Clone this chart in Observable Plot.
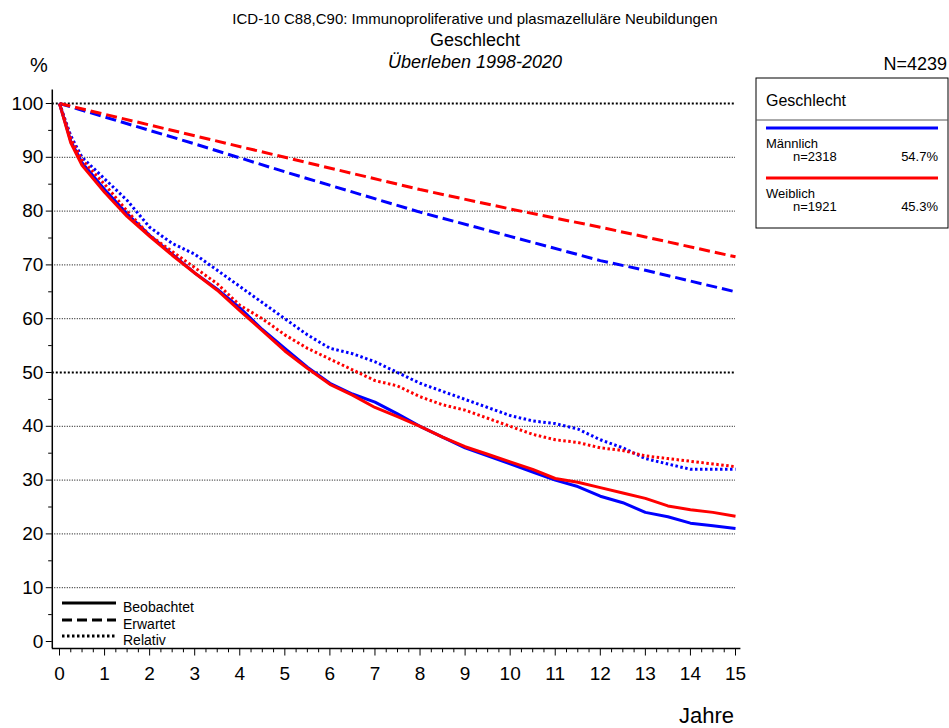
<!DOCTYPE html>
<html lang="de">
<head>
<meta charset="UTF-8">
<script src="https://cdn.jsdelivr.net/npm/d3@7"></script>
<script src="https://cdn.jsdelivr.net/npm/@observablehq/plot@0.6"></script>
<style>
  body { margin: 0; background: #fff; font-family: "Liberation Sans", Arial, sans-serif; }
</style>
</head>
<body>
<div id="chart"></div>
<script>
// survival curves (years, percent)
const years = [0, 0.25, 0.5, 1, 1.5, 2, 2.5, 3, 3.5, 4, 4.5, 5, 5.5, 6, 6.5, 7, 7.5, 8, 8.5, 9, 9.5, 10, 10.5, 11, 11.5, 12, 12.5, 13, 13.5, 14, 14.5, 15];
const obsMale   = [100, 93, 89, 84, 79.5, 75.5, 72, 68.5, 65.5, 62, 58, 54.5, 51, 48, 46, 44.5, 42.3, 40, 38, 36, 34.5, 33, 31.5, 30, 28.8, 27, 25.8, 24, 23.2, 22, 21.5, 21];
const obsFemale = [100, 92.7, 88.5, 83.5, 79, 75.3, 71.8, 68.5, 65.3, 61.5, 57.8, 54, 50.8, 47.8, 45.8, 43.5, 41.8, 40, 38, 36.2, 34.8, 33.4, 32, 30.3, 29.6, 28.6, 27.6, 26.6, 25.2, 24.5, 24, 23.3];
const relMale   = [100, 94, 90, 86, 82, 77, 74, 72, 69, 66, 63, 60, 57, 54.5, 53.5, 52, 50, 48, 46.5, 45, 43.5, 42, 41, 40.5, 39.5, 37.5, 36, 34, 33, 32, 32, 32];
const relFemale = [100, 93.5, 89.5, 85, 80, 75.5, 72.5, 69.5, 66.5, 62.5, 60, 57, 54.5, 52.5, 50.5, 48.5, 47.5, 45.5, 44, 43, 41.5, 40, 38.5, 37.5, 37, 36, 35.5, 34.5, 34, 33.5, 33, 32.5];
const expYears  = [0, 3, 5, 8, 10, 12, 13, 15];
const expMale   = [100, 92.5, 87.3, 79.8, 75.3, 70.8, 69, 65];
const expFemale = [100, 94, 90, 84, 80.4, 77, 75.2, 71.5];

const yTicks = [0, 10, 20, 30, 40, 50, 60, 70, 80, 90, 100];
const xTicks = d3.range(0, 16);

const blue = "#0000ff", red = "#ff0000";
const rows = (xs, ys) => xs.map((x, i) => ({x, y: ys[i]}));

const series = [
  {data: rows(years, obsMale), color: blue, dash: null},
  {data: rows(years, obsFemale), color: red, dash: null},
  {data: rows(expYears, expMale), color: blue, dash: "11,5"},
  {data: rows(expYears, expFemale), color: red, dash: "11,5"},
  {data: rows(years, relMale), color: blue, dash: "2.5,2.5"},
  {data: rows(years, relFemale), color: red, dash: "2.5,2.5"}
];

const X0 = -0.16, Y0 = -1.3;
const thick = d => d === 50 || d === 100;

const plot = Plot.plot({
  width: 949,
  height: 728,
  style: {fontFamily: "Liberation Sans, Arial, sans-serif", fontSize: "19px", color: "#000"},
  x: {type: "linear", domain: [0, 15], range: [59, 735], axis: null},
  y: {type: "linear", domain: [0, 100], range: [641, 103], axis: null},
  marks: [
    Plot.ruleY(yTicks.filter(d => d > 0).filter(d => !thick(d)), {x1: X0, x2: 15, stroke: "#000", strokeWidth: 1, strokeDasharray: "1,1.5"}),
    Plot.ruleY(yTicks.filter(thick), {x1: X0, x2: 15, stroke: "#000", strokeWidth: 2, strokeDasharray: "2,2"}),
    ...series.map(s => Plot.line(s.data, {x: "x", y: "y", stroke: s.color, strokeWidth: 3, strokeDasharray: s.dash, strokeLinecap: "butt"})),
    Plot.axisY(yTicks, {x: X0, tickSize: 6, tickPadding: 3, fontSize: 19, label: null, anchor: "left"}),
    Plot.ruleY(d3.range(5, 100, 10), {x1: X0, x2: -0.24, stroke: "#000"}),
    Plot.axisX(xTicks, {y: Y0, tickSize: 0, tickPadding: 18, fontSize: 19, label: null}),
    Plot.ruleY([Y0], {x1: X0, x2: 15.12, stroke: "#000", strokeWidth: 1.5}),
    Plot.ruleX(d3.range(0, 15.01, 0.25), {y1: Y0, y2: d => Number.isInteger(d) ? -2.7 : -2.1, stroke: "#000", strokeWidth: 1}),
    Plot.ruleX([X0], {y1: Y0, y2: 102.5, stroke: "#000", strokeWidth: 1.5})
  ]
});

const svg = d3.select(plot);
const t = (x, y, s, size, opts = {}) => svg.append("text").attr("x", x).attr("y", y)
  .attr("font-size", size).attr("fill", "#000").attr("text-anchor", opts.anchor || "start")
  .attr("font-style", opts.italic ? "italic" : "normal").text(s);

t(475, 24, "ICD-10 C88,C90: Immunoproliferative und plasmazelluläre Neubildungen", 15, {anchor: "middle"});
t(475, 46, "Geschlecht", 18, {anchor: "middle"});
t(475, 68, "Überleben 1998-2020", 18, {anchor: "middle", italic: true});
t(30, 72, "%", 20);
t(947, 70, "N=4239", 18, {anchor: "end"});
t(734, 723, "Jahre", 22, {anchor: "end"});

// Geschlecht legend box
svg.append("rect").attr("x", 756).attr("y", 78).attr("width", 192).attr("height", 150).attr("fill", "none").attr("stroke", "#000");
svg.append("line").attr("x1", 756).attr("x2", 948).attr("y1", 120).attr("y2", 120).attr("stroke", "#555");
t(766, 106, "Geschlecht", 16);
svg.append("line").attr("x1", 766).attr("x2", 938).attr("y1", 128).attr("y2", 128).attr("stroke", blue).attr("stroke-width", 3);
t(766, 148, "Männlich", 13); t(793, 161, "n=2318", 13); t(938, 161, "54.7%", 13, {anchor: "end"});
svg.append("line").attr("x1", 766).attr("x2", 938).attr("y1", 178).attr("y2", 178).attr("stroke", red).attr("stroke-width", 3);
t(766, 198, "Weiblich", 13); t(793, 211, "n=1921", 13); t(938, 211, "45.3%", 13, {anchor: "end"});

// line style legend
[["Beobachtet", null, 603], ["Erwartet", "10,5", 620], ["Relativ", "2.5,2.5", 636]].forEach(([lab, dash, y]) => {
  svg.append("line").attr("x1", 62).attr("x2", 116).attr("y1", y).attr("y2", y).attr("stroke", "#000")
    .attr("stroke-width", 3).attr("stroke-dasharray", dash);
  t(123, y + 9, lab, 14);
});

document.getElementById("chart").append(plot);
</script>
</body>
</html>
